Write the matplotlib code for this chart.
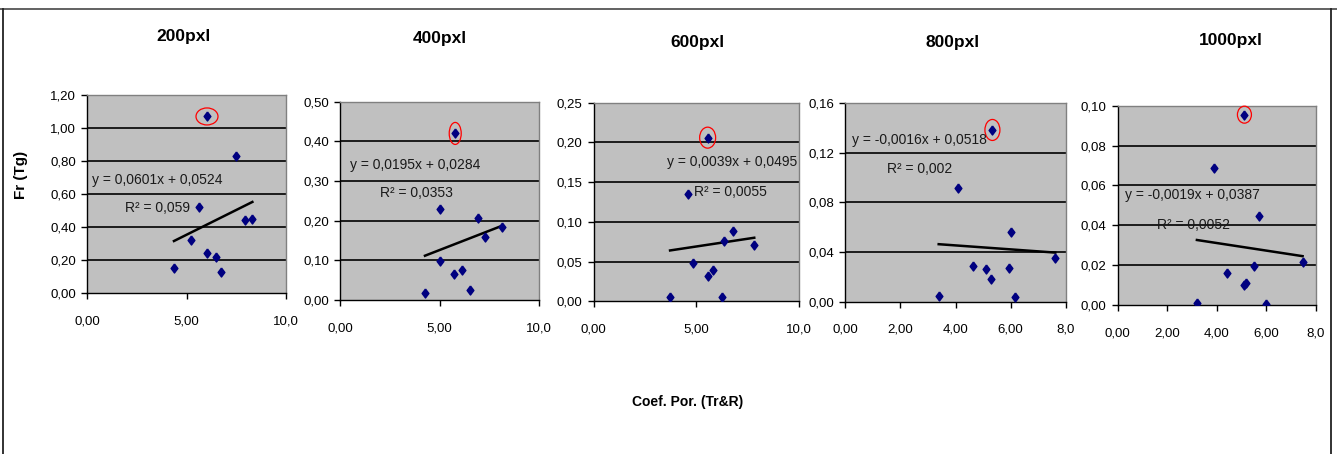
import matplotlib
matplotlib.use("Agg")
import matplotlib.pyplot as plt
import numpy as np
from matplotlib.patches import Ellipse
from matplotlib.lines import Line2D
from matplotlib.transforms import ScaledTranslation

plt.rcParams['font.family'] = ['Liberation Sans', 'DejaVu Sans']

# ---------------- data ----------------
titles = ["200pxl", "400pxl", "600pxl", "800pxl", "1000pxl"]

x200 = [6.03, 7.49, 5.61, 7.94, 8.31, 5.21, 6.01, 6.47, 6.75, 4.37]
y200 = [1.07, 0.83, 0.52, 0.44, 0.45, 0.32, 0.24, 0.22, 0.13, 0.15]
x400 = [5.79, 5.04, 6.92, 7.29, 8.12, 5.04, 6.13, 5.73, 6.55, 4.27]
y400 = [0.42, 0.229, 0.207, 0.16, 0.184, 0.098, 0.076, 0.066, 0.026, 0.017]
x600 = [5.55, 4.59, 6.77, 6.33, 7.82, 4.82, 5.80, 5.55, 6.26, 3.72]
y600 = [0.206, 0.135, 0.088, 0.0755, 0.071, 0.048, 0.039, 0.032, 0.006, 0.006]
x800 = [5.34, 4.10, 6.03, 7.62, 4.64, 5.10, 5.95, 5.29, 6.17, 3.39]
y800 = [0.1385, 0.092, 0.0565, 0.0355, 0.029, 0.026, 0.027, 0.018, 0.0035, 0.0044]
x1000 = [5.12, 3.88, 5.71, 7.47, 5.51, 4.42, 5.17, 5.12, 3.20, 5.98]
y1000 = [0.0955, 0.0686, 0.0447, 0.0217, 0.0196, 0.0159, 0.0112, 0.0100, 0.0012, 0.0005]

slopes = [0.0601, 0.0195, 0.0039, -0.0016, -0.0019]
intercepts = [0.0524, 0.0284, 0.0495, 0.0518, 0.0387]
r2_labels = ["0,059", "0,0353", "0,0055", "0,002", "0,0052"]

xticks_a = [0, 5, 10]
xtick_labels_a = ["0,00", "5,00", "10,0"]
xticks_b = [0, 2, 4, 6, 8]
xtick_labels_b = ["0,00", "2,00", "4,00", "6,00", "8,0"]

yticks_200 = [0.0, 0.2, 0.4, 0.6, 0.8, 1.0, 1.2]
ylabels_200 = ["0,00", "0,20", "0,40", "0,60", "0,80", "1,00", "1,20"]
yticks_400 = [0.0, 0.1, 0.2, 0.3, 0.4, 0.5]
ylabels_400 = ["0,00", "0,10", "0,20", "0,30", "0,40", "0,50"]
yticks_600 = [0.0, 0.05, 0.10, 0.15, 0.20, 0.25]
ylabels_600 = ["0,00", "0,05", "0,10", "0,15", "0,20", "0,25"]
yticks_800 = [0.0, 0.04, 0.08, 0.12, 0.16]
ylabels_800 = ["0,00", "0,04", "0,08", "0,12", "0,16"]
yticks_1000 = [0.0, 0.02, 0.04, 0.06, 0.08, 0.10]
ylabels_1000 = ["0,00", "0,02", "0,04", "0,06", "0,08", "0,10"]

xs = [x200, x400, x600, x800, x1000]
ys = [y200, y400, y600, y800, y1000]
xt = [(xticks_a, xtick_labels_a)] * 3 + [(xticks_b, xtick_labels_b)] * 2
yt = [(yticks_200, ylabels_200), (yticks_400, ylabels_400), (yticks_600, ylabels_600),
      (yticks_800, ylabels_800), (yticks_1000, ylabels_1000)]

# ---------------- layout (pixels) ----------------
W, H = 1337, 454
fig = plt.figure(figsize=(W / 100, H / 100), dpi=100)
fig.patch.set_facecolor('white')

boxes = [(87, 95, 286, 293), (340, 101.7, 539, 300), (593.7, 102.7, 799, 301.3),
         (845.3, 103.3, 1065.7, 301.7), (1117.7, 105.7, 1315.7, 305)]
eq_pos = [(0.025, 0.57), (0.05, 0.68), (0.355, 0.70), (0.029, 0.815), (0.037, 0.55)]
r2_pos = [(0.19, 0.43), (0.20, 0.54), (0.49, 0.55), (0.19, 0.67), (0.197, 0.40)]
title_pos = [(184, 36), (440, 39), (697, 43), (953, 43), (1231, 41)]
ell_size = [(0.22, 0.17), (0.12, 0.22), (0.16, 0.21), (0.15, 0.21), (0.14, 0.17)]

diamond = [(0, 1), (0.75, 0), (0, -1), (-0.75, 0), (0, 1)]

def fmt(v):
    return ("%.4f" % v).replace('.', ',')

for i in range(5):
    l, t, r, b = boxes[i]
    ax = fig.add_axes([l / W, 1 - b / H, (r - l) / W, (b - t) / H])
    ax.set_facecolor('#C0C0C0')
    ticks, labs = xt[i]
    ax.set_xlim(ticks[0], ticks[-1])
    ax.set_xticks(ticks)
    ax.set_xticklabels(labs)
    yv, yl = yt[i]
    ax.set_ylim(yv[0], yv[-1])
    ax.set_yticks(yv)
    ax.set_yticklabels(yl)
    for yy in yv[1:-1]:
        ax.axhline(yy, color='black', lw=1.2, zorder=1)
    for s in ['top', 'right']:
        ax.spines[s].set_color('#808080')
        ax.spines[s].set_linewidth(1.0)
    for s in ['left', 'bottom']:
        ax.spines[s].set_color('black')
        ax.spines[s].set_linewidth(1.0)
    ax.tick_params(axis='x', direction='out', length=4, width=1, pad=12,
                   labelsize=9.5, colors='black')
    ax.tick_params(axis='y', direction='out', length=4, width=1, pad=4,
                   labelsize=9.5, colors='black')

    x = np.array(xs[i]); y = np.array(ys[i])
    xl = np.array([x.min(), x.max()])
    ax.plot(xl, slopes[i] * xl + intercepts[i], color='black', lw=1.8, zorder=3)
    ax.plot(x, y, linestyle='none', marker=diamond, markersize=6.5,
            color='#000080', zorder=4)

    k = int(np.argmax(y))
    tr = fig.dpi_scale_trans + ScaledTranslation(x[k], y[k], ax.transData)
    ew, eh = ell_size[i]
    ax.add_patch(Ellipse((0, 0), ew, eh, transform=tr, fill=False,
                         edgecolor='red', lw=0.9, zorder=5, clip_on=False))

    ax.text(eq_pos[i][0], eq_pos[i][1],
            "y = %sx + %s" % (fmt(slopes[i]), fmt(intercepts[i])),
            transform=ax.transAxes, ha='left', va='center', fontsize=10,
            color='#1a1a1a', zorder=6)
    ax.text(r2_pos[i][0], r2_pos[i][1], "R² = " + r2_labels[i],
            transform=ax.transAxes, ha='left', va='center', fontsize=10,
            color='#1a1a1a', zorder=6)

    tx, ty = title_pos[i]
    fig.text(tx / W, 1 - ty / H, titles[i], ha='center', va='center',
             fontsize=12.5, fontweight='bold')

fig.text(21 / W, 1 - 175 / H, "Fr (Tg)", rotation=90, ha='center', va='center',
         fontsize=11, fontweight='bold')
fig.text(688 / W, 1 - 402 / H, "Coef. Por. (Tr&R)", ha='center', va='center',
         fontsize=10, fontweight='bold')

# outer frame
def pl(x0, y0, x1, y1, c):
    fig.add_artist(Line2D([x0 / W, x1 / W], [1 - y0 / H, 1 - y1 / H],
                          transform=fig.transFigure, color=c, lw=1.3))
pl(0, 8.7, W, 8.7, '#555555')
pl(3, 8.7, 3, H, '#222222')
pl(1331, 8.7, 1331, H, '#222222')

fig.savefig("out.png", dpi=100, facecolor='white')
